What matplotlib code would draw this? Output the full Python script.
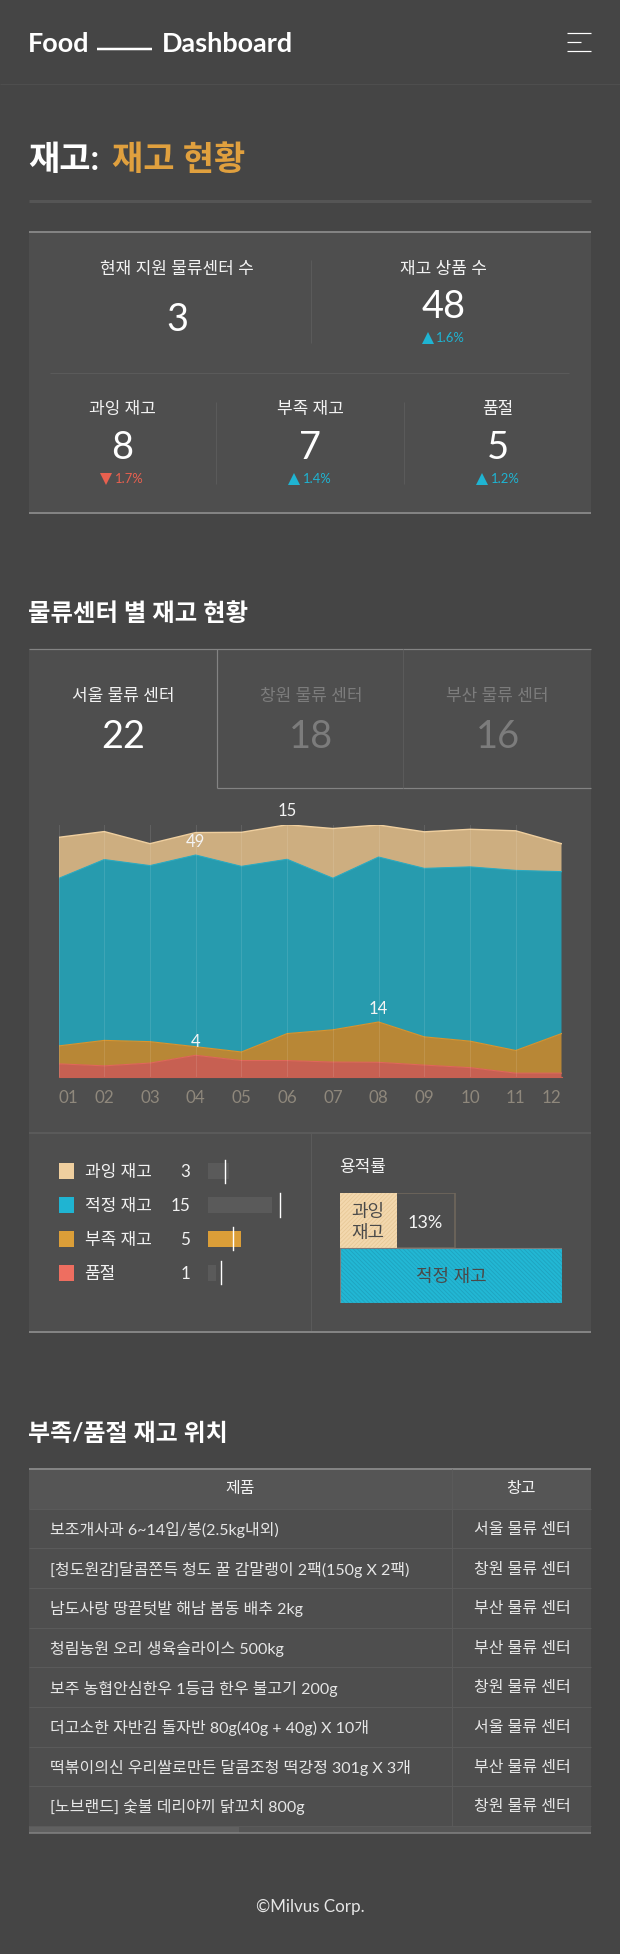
import matplotlib
matplotlib.use("Agg")
import matplotlib.pyplot as plt
from matplotlib.patches import Rectangle

W, H = 620, 1954
BG = "#454545"
PANEL = "#4e4e4e"
RULE = "#838383"
LATIN = "Lato"
KR = "Noto Sans CJK KR"
plt.rcParams["font.family"] = [LATIN, KR, "DejaVu Sans"]
plt.rcParams["hatch.linewidth"] = 0.6

# top cards
top_cards = [("현재 지원 물류센터 수", "3", None), ("재고 상품 수", "48", "▲1.6%")]
low_cards = [("과잉 재고", "8", "▼1.7%"), ("부족 재고", "7", "▲1.4%"), ("품절", "5", "▲1.2%")]

# centre tabs
tab_names = ["서울 물류 센터", "창원 물류 센터", "부산 물류 센터"]
tab_values = ["22", "18", "16"]

# stacked area, share per month
months = ["01", "02", "03", "04", "05", "06", "07", "08", "09", "10", "11", "12"]
soldout = [5.3, 4.5, 5.6, 8.7, 6.6, 6.6, 6.0, 5.9, 4.8, 3.8, 1.6, 1.6]
short = [7.1, 10.1, 8.5, 3.4, 3.4, 10.7, 12.8, 16.0, 11.2, 10.5, 9.0, 15.7]
proper = [66.4, 71.7, 69.8, 76.0, 73.6, 69.1, 60.1, 65.4, 66.8, 69.1, 71.4, 64.2]
over = [16.3, 11.1, 8.7, 8.9, 13.5, 13.7, 19.7, 12.7, 14.5, 14.9, 15.7, 11.1]

# legend with bars
legend_names = ["과잉 재고", "적정 재고", "부족 재고", "품절"]
legend_counts = ["3", "15", "5", "1"]
legend_colors = ["#efcf9f", "#1fb4d2", "#db9e38", "#ee6e60"]
bar_values = [20.2, 63.6, 32.8, 7.5]
bar_targets = [17, 71.9, 24.9, 12.2]

# capacity block
over_share = 25.6
box_share = 51.7

# table
products = [
    "보조개사과 6~14입/봉(2.5kg내외)",
    "[청도원감]달콤쫀득 청도 꿀 감말랭이 2팩(150g X 2팩)",
    "남도사랑 땅끝텃밭 해남 봄동 배추 2kg",
    "청림농원 오리 생육슬라이스 500kg",
    "보주 농협안심한우 1등급 한우 불고기 200g",
    "더고소한 자반김 돌자반 80g(40g + 40g) X 10개",
    "떡볶이의신 우리쌀로만든 달콤조청 떡강정 301g X 3개",
    "[노브랜드] 숯불 데리야끼 닭꼬치 800g",
]
stores = ["서울 물류 센터", "창원 물류 센터", "부산 물류 센터", "부산 물류 센터",
          "창원 물류 센터", "서울 물류 센터", "부산 물류 센터", "창원 물류 센터"]

fig = plt.figure(figsize=(W / 100, H / 100), dpi=100, facecolor=BG)
ax = fig.add_axes([0, 0, 1, 1])
ax.set_xlim(0, W)
ax.set_ylim(H, 0)
ax.axis("off")

# texts that sit over the small axes go here
over_ax = fig.add_axes([0, 0, 1, 1], zorder=5)
over_ax.set_xlim(0, W)
over_ax.set_ylim(H, 0)
over_ax.axis("off")


def txt(x, y, s, size, color="#f2f2f2", ha="center", weight="normal", on=None):
    # size in pixels, small nudge because va=center sits high
    return (on or ax).text(x, y + size * 0.085, s, fontsize=size * 0.72, color=color, ha=ha,
                           va="center", fontweight=weight)


def hline(y, x0, x1, color, lw):
    ax.plot([x0, x1], [y, y], color=color, lw=lw * 0.72, solid_capstyle="butt")


def vline(x, y0, y1, color, lw):
    ax.plot([x, x], [y0, y1], color=color, lw=lw * 0.72, solid_capstyle="butt")


def px_axes(x0, y0, x1, y1):
    a = fig.add_axes([x0 / W, 1 - y1 / H, (x1 - x0) / W, (y1 - y0) / H])
    a.patch.set_alpha(0)
    return a


def delta(x, y, s):
    col = "#1fb4d2" if s[0] == "▲" else "#e8604f"
    ax.text(x - 7.5, y, s[1:], fontsize=13 * 0.72, color=col, ha="left", va="center")
    ax.plot(x - 16, y, marker="^" if s[0] == "▲" else "v", color=col, ms=8, mew=0)


# header
txt(28, 41.5, "Food", 27, "white", ha="left", weight="bold")
hline(49, 97, 152, "white", 2.5)
txt(162, 41.5, "Dashboard", 27, "white", ha="left", weight="bold")
hline(33, 567, 591, "white", 1.2)
hline(42, 567, 581, "white", 1.2)
hline(51, 567, 591, "white", 1.2)
hline(83.5, 0, W, "#4e4e4e", 1.2)

# page title
txt(28, 157, "재고:", 34, "white", ha="left", weight="bold")
txt(112, 157, "재고 현황", 34, "#e0a03e", ha="left", weight="bold")
hline(201, 28.5, 591, "#555555", 3)

# first panel
ax.add_patch(Rectangle((28.5, 231.6), 562.5, 281.4, fc=PANEL, ec="none"))
hline(232, 28.5, 591, RULE, 2)
hline(512.5, 28.5, 591, RULE, 2)
vline(311, 260, 343, "#5a5a5a", 1)
hline(372.5, 50, 569, "#5a5a5a", 1)
vline(216, 401.6, 484, "#5a5a5a", 1)
vline(404, 401.6, 484, "#5a5a5a", 1)

txt(177, 268, top_cards[0][0], 17)
txt(177, 317, top_cards[0][1], 38, "white")
txt(443.6, 268, top_cards[1][0], 17)
txt(443.6, 304, top_cards[1][1], 38, "white")
delta(443.6, 338, top_cards[1][2])
for cx, (name, val, d) in zip([122, 310, 498], low_cards):
    txt(cx, 408, name, 17)
    txt(cx, 445, val, 38, "white")
    delta(cx, 479, d)

# second panel
txt(28, 611, "물류센터 별 재고 현황", 24.4, "white", ha="left", weight="bold")
ax.add_patch(Rectangle((28.5, 648.5), 562.5, 683.5, fc=PANEL, ec="none"))
hline(649, 28.5, 591, RULE, 1.2)
vline(216.5, 649, 788, RULE, 1.2)
hline(788, 216.5, 591, RULE, 1.2)
vline(403, 649, 788, "#5a5a5a", 1)
for i, (cx, name, val) in enumerate(zip([123.4, 311, 497.5], tab_names, tab_values)):
    txt(cx, 694.7, name, 17, "#f2f2f2" if i == 0 else "#7c7c7c")
    txt(cx, 734, val, 38, "white" if i == 0 else "#7c7c7c")

# stacked area
ac = px_axes(58.5, 825, 561.5, 1077.2)
xs = list(range(12))
ac.stackplot(xs, soldout, short, proper, over,
             colors=["#c76052", "#b88736", "#279bae", "#cdae80"], lw=0)
cum1 = [a + b for a, b in zip(soldout, short)]
cum2 = [a + b for a, b in zip(cum1, proper)]
cum3 = [a + b for a, b in zip(cum2, over)]
ac.plot(xs, soldout, color="#e0675a", lw=0.8)
ac.plot(xs, cum1, color="#d8952f", lw=0.8)
ac.plot(xs, cum2, color="#2aabc2", lw=0.8)
ac.plot(xs, cum3, color="#efcf9f", lw=1.0)
for x in xs:
    ac.axvline(x, color="white", alpha=0.1, lw=0.8)
ac.set_xlim(0, 11)
ac.set_ylim(0, 100)
ac.set_yticks([])
ac.set_xticks(xs, months)
ac.tick_params(axis="x", length=0, pad=9, labelsize=17 * 0.72, labelcolor="#8f887c")
ac.get_xticklabels()[0].set_ha("left")
ac.get_xticklabels()[-1].set_ha("right")
for s in ac.spines.values():
    s.set_visible(False)
ac.spines["bottom"].set_visible(True)
ac.spines["bottom"].set_color("#c76052")
for xi, yi, dy, s in [(5, cum3[5], 13.8, "15"), (3, cum3[3], -9.6, "49"),
                      (3, cum1[3], 5, "4"), (7, cum1[7], 12.8, "14")]:
    ac.annotate(s, (xi, yi), xytext=(0, dy * 0.72), textcoords="offset points", ha="center",
                va="center", color="#f4f4f4", fontsize=12)

# legend and bars
hline(1133.3, 28.5, 591, "#5a5a5a", 2)
vline(311, 1133.3, 1332, "#5a5a5a", 1)
hline(1331.5, 28.5, 591, RULE, 2)
rows_y = [1171, 1205, 1238.7, 1272.7]
for yy, name, cnt, col in zip(rows_y, legend_names, legend_counts, legend_colors):
    ax.add_patch(Rectangle((58.5, yy - 7.8), 15.5, 15.6, fc=col, ec="none"))
    txt(84.6, yy, name, 17, ha="left")
    txt(190.6, yy, cnt, 17, ha="right")

ab = px_axes(208.4, 1154.2, 308.4, 1289.7)
ab.set_xlim(0, 100)
ab.set_ylim(3.5, -0.5)
bar_colors = ["#5a5a5a", "#5a5a5a", "#db9e38", "#5a5a5a"]
ab.barh(range(4), bar_values, height=0.46, color=bar_colors)
for i, tgt in enumerate(bar_targets):
    ab.plot([tgt, tgt], [i - 0.34, i + 0.34], color="white", lw=1)
ab.axis("off")

# capacity
txt(339.5, 1166, "용적률", 17, ha="left")
am = px_axes(339.7, 1192.7, 562, 1302.7)
am.set_xlim(0, 100)
am.set_ylim(0, 2)
am.bar(0, 1, width=box_share, bottom=1, align="edge", fc="none", ec="#6f675c", lw=1.2)
am.bar(over_share / 2, 1, width=over_share, bottom=1, fc="#f3d8ae", ec="#e8c998",
       hatch="////////", lw=0)
am.bar(50, 1, width=100, bottom=0, fc="#22b7d4", ec="#1fa3bf", hatch="\\\\\\\\\\\\\\\\", lw=0)
am.bar(50, 1, width=100, bottom=0, fc="none", ec="#7c7c7c", lw=0.8)
am.axis("off")
txt(368, 1210.7, "과잉", 18, "#4a4a4a", on=over_ax)
txt(368, 1231, "재고", 18, "#4a4a4a", on=over_ax)
txt(425.5, 1221, "13%", 18, "#f4f4f4", on=over_ax)
txt(451, 1275, "적정 재고", 18, "#4a4a4a", on=over_ax)

# table
txt(28, 1431.8, "부족/품절 재고 위치", 24, "white", ha="left", weight="bold")
ax.add_patch(Rectangle((28.5, 1468.5), 562.5, 40.3, fc="#555555", ec="none"))
ax.add_patch(Rectangle((28.5, 1508.8), 562.5, 317, fc=PANEL, ec="none"))
hline(1469, 28.5, 591, RULE, 2)
row_h = (1825.8 - 1508.8) / 8
for i in range(1, 9):
    hline(1508.8 + i * row_h, 28.5, 591, "#5a5a5a", 1)
hline(1508.8, 28.5, 591, "#5a5a5a", 1)
vline(452.4, 1469, 1825.8, "#5a5a5a", 1)
txt(240, 1488, "제품", 16)
txt(521, 1488, "창고", 16)
for i, (p, s) in enumerate(zip(products, stores)):
    cy = 1508.8 + (i + 0.5) * row_h
    txt(50, cy, p, 16, "#e6e6e6", ha="left")
    txt(522, cy, s, 16, "#e6e6e6")
ax.add_patch(Rectangle((28.5, 1825.8), 562.5, 7, fc="#555555", ec="none"))
ax.add_patch(Rectangle((28.5, 1825.8), 210.5, 7, fc="#606060", ec="none"))
hline(1833, 28.5, 591, RULE, 1.5)

txt(310, 1905.3, "©Milvus Corp.", 17, "#e6e6e6")

fig.savefig("out.png", dpi=100, facecolor=BG)
